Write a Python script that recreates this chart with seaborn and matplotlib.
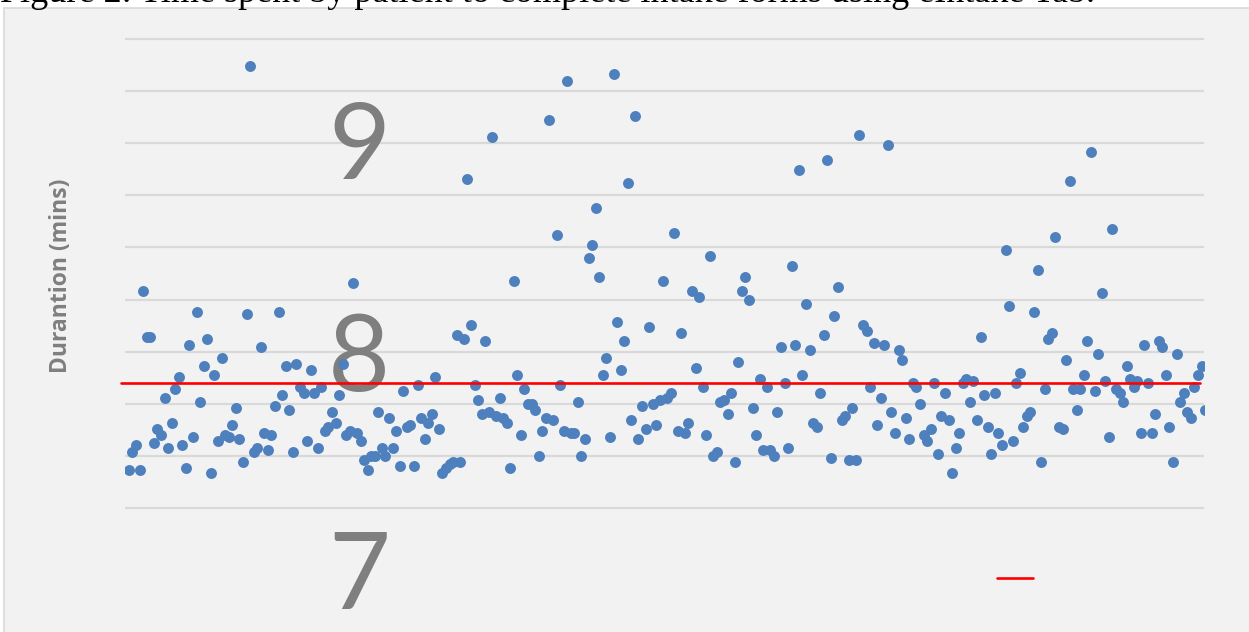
import matplotlib
matplotlib.use("Agg")
import matplotlib.pyplot as plt
from matplotlib.patches import Rectangle
from matplotlib.lines import Line2D
import matplotlib.transforms as mtransforms
import seaborn as sns
import pandas as pd

# Time (minutes) each patient needed to fill in the intake forms, in patient order
durations = [
    7.43, 7.52, 7.55, 7.43, 8.29, 8.07, 8.07, 7.56, 7.63, 7.60,
    7.78, 7.54, 7.66, 7.82, 7.88, 7.55, 7.44, 8.03, 7.59, 8.19,
    7.76, 7.93, 8.06, 7.42, 7.89, 7.57, 7.97, 7.60, 7.59, 7.65,
    7.73, 7.58, 7.47, 8.18, 9.37, 7.52, 7.54, 8.02, 7.61, 7.53,
    7.60, 7.74, 8.19, 7.79, 7.93, 7.72, 7.52, 7.94, 7.83, 7.80,
    7.57, 7.91, 7.80, 7.54, 7.83, 7.62, 7.64, 7.71, 7.66, 7.79,
    7.94,
    7.60, 7.62, 8.33, 7.61, 7.57, 7.48, 7.43, 7.50, 7.50, 7.71,
    7.54, 7.50, 7.68, 7.54, 7.62,
    7.45, 7.81, 7.64, 7.65, 7.45, 7.84, 7.68, 7.58, 7.66, 7.70,
    7.88, 7.63, 7.42, 7.44, 7.46, 7.47, 8.08, 7.47, 8.06, 8.83,
    8.13, 7.84, 7.77, 7.70, 8.05, 7.71, 9.03, 7.69, 7.78, 7.68,
    7.66, 7.44, 8.34, 7.89, 7.60, 7.82, 7.75, 7.75, 7.72, 7.50,
    7.62, 7.68, 9.11, 7.67, 8.56, 7.84, 7.62, 9.30, 7.61, 7.61,
    7.76, 7.50, 7.58, 8.45, 8.51, 8.69, 8.36, 7.89, 7.97, 7.59,
    9.33, 8.14, 7.91, 8.05, 8.81, 7.67, 9.13, 7.58, 7.74, 7.63,
    8.12, 7.75, 7.65, 7.77, 8.34, 7.78, 7.80, 8.57, 7.62, 8.09,
    7.61, 7.66, 8.29, 7.92, 8.26, 7.83, 7.60, 8.46, 7.50, 7.52,
    7.76, 7.77, 7.70, 7.80, 7.47, 7.95, 8.29, 8.36, 8.25, 7.73,
    7.60, 7.87, 7.53, 7.83, 7.53, 7.50, 7.71, 8.02, 7.85, 7.54,
    8.41, 8.03, 8.87, 7.89, 8.23, 8.01, 7.66, 7.64, 7.80, 8.08,
    8.92, 7.49, 8.17, 8.31, 7.67, 7.69, 7.48, 7.73, 7.48, 9.04,
    8.13, 8.10, 7.83, 8.04, 7.65, 7.78, 8.03, 8.99, 7.71, 7.61,
    8.01, 7.96, 7.68, 7.58, 7.85, 7.83, 7.75, 7.60, 7.57, 7.63,
    7.85, 7.51, 7.69, 7.80, 7.67, 7.42, 7.54,
    7.61, 7.85, 7.87, 7.76, 7.86, 7.67, 8.07, 7.79, 7.64, 7.51,
    7.80, 7.61, 7.55, 8.49, 8.22, 7.57, 7.85, 7.90, 7.64, 7.69,
    7.71, 8.19, 8.39, 7.47, 7.82, 8.06, 8.09, 8.55, 7.64, 7.63,
    7.96, 8.82, 7.82, 7.72, 7.82, 7.89, 8.05, 8.96, 7.81, 7.99,
    8.28, 7.86, 7.59, 8.59, 7.82, 7.80, 7.76, 7.93, 7.87, 7.83,
    7.86, 7.61, 8.03, 7.85, 7.61, 7.70, 8.05, 8.02, 7.89, 7.64,
    7.47, 7.99, 7.76, 7.80, 7.71, 7.68, 7.83, 7.89, 7.93, 7.72,
]
patients = list(range(1, len(durations) + 1))

mean_duration = 7.85
tick_values = [7, 8, 9]
tick_labels = ["7", "8", "9"]
grid_levels = [7.25, 7.50, 7.75, 8.00, 8.25, 8.50, 8.75, 9.00, 9.25, 9.50]

title = "Figure 2: Time spent by patient to complete intake forms using eIntake Tab."
y_title = "Durantion (mins)"

df = pd.DataFrame({"Patient": patients, "Duration": durations})

sns.set_theme(style="white")
plt.rcParams["font.family"] = ["Lato", "DejaVu Sans"]

W, H = 1249, 632
fig = plt.figure(figsize=(W / 100, H / 100), dpi=100, facecolor="white")

# chart area panel, kept behind the axes
panel = Rectangle((4 / W, -0.2), 1.2, 1 - 8 / H + 0.2, transform=fig.transFigure,
                  facecolor="#f2f2f2", edgecolor="#d9d9d9", linewidth=1.2, zorder=-5)
fig.patches.append(panel)

fig.text(0.0, 1 - 2.5 / H, title, ha="left", va="baseline",
         family=["Liberation Serif"], fontsize=26, color="black")

ax = fig.add_axes([125 / W, 0.0, 1079 / W, 618 / H])
ax.set_facecolor("none")

for lvl in grid_levels:
    ax.axhline(lvl, color="#d9d9d9", linewidth=1.6, zorder=0.3)

sns.scatterplot(data=df, x="Patient", y="Duration", ax=ax, color="#4e80bd",
                s=62, linewidth=0, legend=False, zorder=1)

ax.axhline(mean_duration, xmin=-0.004, xmax=0.996, color="#ff0000",
           linewidth=1.9, clip_on=False, zorder=2)

n = len(durations)
ax.set_xlim(1 - 1.1, n - 0.3)
ax.set_ylim(6.655, 9.62)

ax.set_xticks([])
ax.set_yticks(tick_values)
ax.set_yticklabels(tick_labels)
ax.tick_params(axis="y", length=0, pad=-191, labelsize=77, labelcolor="#7f7f7f")
for lab in ax.get_yticklabels():
    lab.set_family(["Lato", "DejaVu Sans"])

# small vertical nudges of the large tick digits
nudges = {"7": -10, "8": 0, "9": 3}
for tick, txt in zip(ax.yaxis.get_major_ticks(), tick_labels):
    off = mtransforms.ScaledTranslation(0, nudges[txt] / 100, fig.dpi_scale_trans)
    tick.label1.set_transform(tick.label1.get_transform() + off)

for s in ax.spines.values():
    s.set_visible(False)

ax.set_xlabel("")
ax.set_ylabel(y_title, fontsize=16.5, fontweight="bold", color="#7f7f7f",
              family=["Open Sans", "DejaVu Sans"])
ax.yaxis.set_label_coords(-(125 - 73) / 1079, (632 - 276) / 618)

# legend entry for the mean line
handle = Line2D([], [], color="#ff0000", linewidth=1.9)
fig.legend(handles=[handle], labels=[""], loc="center left",
           bbox_to_anchor=(997 / W, 1 - 579 / H), frameon=False,
           borderpad=0, borderaxespad=0, handlelength=2.6, handletextpad=0,
           fontsize=10)

fig.savefig("out.png", dpi=100, facecolor="white")
